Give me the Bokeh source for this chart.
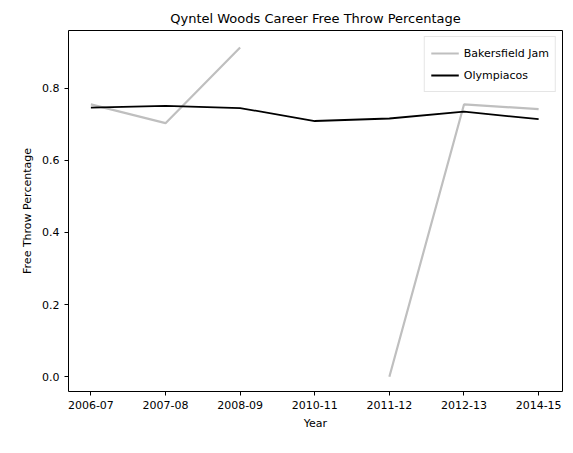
import numpy as np
from bokeh.plotting import figure
from bokeh.models import Range1d, FixedTicker, Legend, LegendItem
from bokeh.embed import file_html
from bokeh.resources import INLINE

years = ["2006-07", "2007-08", "2008-09", "2010-11", "2011-12", "2012-13", "2014-15"]
bakersfield = [0.755, 0.703, 0.913, np.nan, 0.0, 0.755, 0.742]
olympiacos = [0.746, 0.751, 0.745, 0.709, 0.716, 0.735, 0.714]
x = list(range(len(years)))

p = figure(width=564, height=438, output_backend="svg", toolbar_location=None,
           x_range=Range1d(-0.3, 6.32), y_range=Range1d(-0.041, 0.96),
           min_border_left=68, min_border_right=2, min_border_top=30, min_border_bottom=47)
p.title.text = "Qyntel Woods Career Free Throw Percentage"
p.title.align = "center"
p.title.text_font_style = "normal"
p.title.text_font_size = "13px"
p.title.text_font = "DejaVu Sans"
p.title.text_color = "black"
p.grid.visible = False
p.outline_line_color = "black"

p.xaxis.ticker = FixedTicker(ticks=x)
p.xaxis.major_label_overrides = {i: y for i, y in enumerate(years)}
p.yaxis.ticker = FixedTicker(ticks=[0.0, 0.2, 0.4, 0.6, 0.8])
p.yaxis.major_label_overrides = {0.0: "0.0", 0.2: "0.2", 0.4: "0.4", 0.6: "0.6", 0.8: "0.8"}
p.xaxis.axis_label = "Year"
p.yaxis.axis_label = "Free Throw Percentage"
for ax in (p.xaxis, p.yaxis):
    ax.axis_label_text_font_style = "normal"
    ax.axis_label_text_font_size = "11px"
    ax.axis_label_text_font = "DejaVu Sans"
    ax.axis_label_text_color = "black"
    ax.major_label_text_font_size = "11px"
    ax.major_label_text_font = "DejaVu Sans"
    ax.major_label_text_color = "black"
    ax.major_tick_line_color = "black"
    ax.minor_tick_line_color = None
    ax.major_tick_in = 0
    ax.major_tick_out = 4
    ax.axis_line_color = None

r1 = p.line(x, bakersfield, line_color="#bfbfbf", line_width=2.2)
r2 = p.line(x, olympiacos, line_color="black", line_width=1.8)

legend = Legend(items=[LegendItem(label="Bakersfield Jam", renderers=[r1]),
                       LegendItem(label="Olympiacos", renderers=[r2])],
                location="top_right", label_text_font_size="11px",
                label_text_font="DejaVu Sans", label_text_color="black",
                border_line_color="#cccccc",
                glyph_width=28, spacing=2, padding=6, margin=6, label_height=14)
p.add_layout(legend)

open("out.html", "w").write(file_html(p, INLINE))
